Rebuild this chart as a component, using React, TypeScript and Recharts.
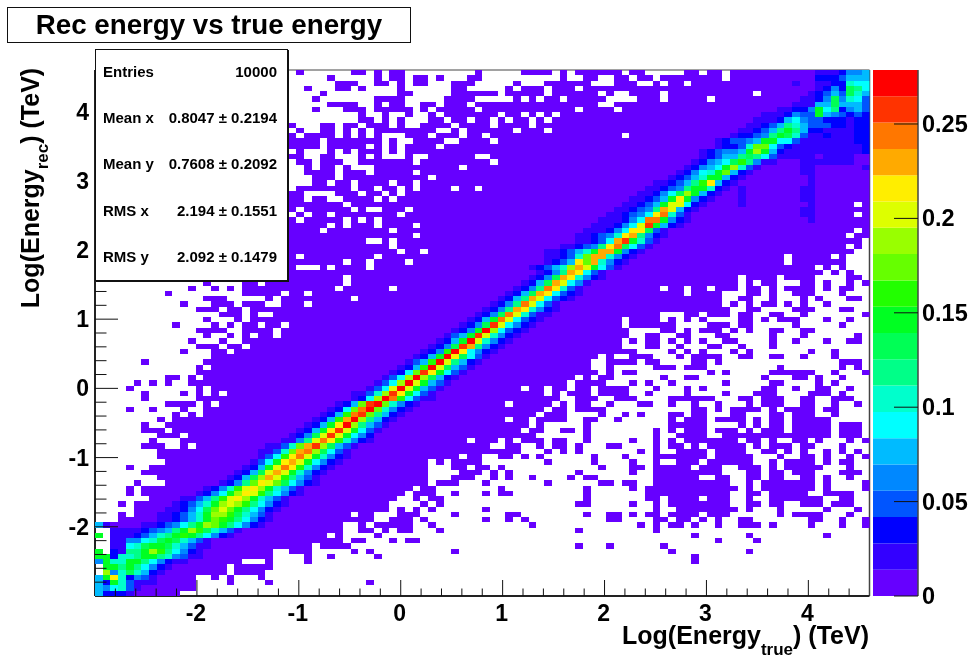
import { Bar, BarChart, ReferenceLine, Scatter, ScatterChart, XAxis, YAxis } from "recharts";

// colour levels of the z scale, bottom to top
const palette = [
  "#6600ff", "#3300ff", "#0000ff", "#0055ff", "#0088ff", "#00bbff", "#00ffff", "#00ffcc", "#00ff88", "#00ff55",
  "#00ff22", "#22ff00", "#66ff00", "#99ff00", "#ddff00", "#ffee00", "#ffaa00", "#ff7700", "#ff3300", "#ff0000",
];
const levelChars = "0123456789abcdefghij";
const zBandValue = 0.01393;
const zTicks = [0, 0.05, 0.1, 0.15, 0.2, 0.25];

const axisTicks = [
  -2.8, -2.6, -2.4, -2.2, -2, -1.8, -1.6, -1.4, -1.2, -1, -0.8, -0.6, -0.4, -0.2, 0, 0.2, 0.4, 0.6, 0.8, 1, 1.2, 1.4,
  1.6, 1.8, 2, 2.2, 2.4, 2.6, 2.8, 3, 3.2, 3.4, 3.6, 3.8, 4, 4.2, 4.4,
];

const binCount = 100;
const axisMin = -3;
const axisMax = 4.6;

// filled bins of each row, top row first: column ranges
const filledRows = [
  "26 33-34 36 38-39 49 55-58 60 62-67 69-70 76-77 79-80 82-99",
  "30 36 38-39 41-42 44 48-49 60 63-64 67-68 70-71 73-80 82-99",
  "31-33 36-37 39 41-42 46-48 54 58-63 67-69 72 74-75 77-99",
  "27 31-32 34 39 46-47 53 55-57 59-61 63-99",
  "29 39-40 46-51 53-57 59-64 66 69-72 74-84 86-99",
  "28 36-39 45-48 54 56 58-59 61-65 70-72 74-78 80-99",
  "30-33 36 38-39 42-43 45-47 49-64 67-99",
  "28 32-34 36-40 42 44-48 50-61 63-66 68-99",
  "34 37 40 43 45-51 53-54 56 58 60-99",
  "34-35 37 39 43-44 46-47 49-50 52 54-55 57 59-99",
  "25 29-30 32-33 35-37 39 42-45 47-50 52-55 57-99",
  "26 29-30 32 34 36-43 46 48-53 55-57 59-99",
  "25 27-30 32 34 36 40-42 44-46 48-49 51-67 69-99",
  "25-28 30-36 38 41-44 47-50 52-99",
  "25-28 30-34 36 38 40-43 45-99",
  "26 30 32 34-36 38 40-99",
  "25-26 29-30 34 36 40 43-48 51-99",
  "26-27 29-31 34-40 42-50 52-99",
  "27 29-30 32 36-46 48-99",
  "27-30 32-34 36-40 42-99",
  "28-30 32-42 44-99",
  "28-29 31-32 34-37 39-40 42-99",
  "26-32 34-35 37-38 40 42-45 47-48 50-99",
  "25-26 31-33 35-36 38 40-99",
  "25-26 28-29 32-35 37 39-99",
  "25-31 33-97 99",
  "25 27-32 34 37-39 41-99",
  "26 28-29 31-38 40-97 99",
  "25 27-31 33 35 37-99",
  "25-29 31 33-35 37-40 42-99",
  "25-28 30-37 39-97 99",
  "25-40 42-96 98-99",
  "25-34 37 39-98",
  "25-37 39-96 98",
  "25-38 40-41 43-97",
  "25 27-35 37-88 90-94 96",
  "25-31 33-34 36-39 41-88 90-96",
  "25 29 31-34 36-92 94 96",
  "25-93 95 97",
  "25-31 33-82 84-87 89-92 97-98",
  "14 19-20 22-31 33-82 84 86-87 91-92 94 97 99",
  "12 15 17 19-30 32-37 39-72 74-75 77-78 80-82 84-85 87 89-92 94 96-97",
  "9 19-23 25-26 28-75 77-80 84-85 87 90-92 96",
  "14-16 22 24-32 34-80 83-84 87 91 93 97-98",
  "11 15-17 19-21 24-26 28-80 82 84 86-87 89 91 94",
  "13-15 17-18 20-81 84-85 90-92 96-97",
  "16-18 20 23-72 76-77 79-81 83-84 87-88 91 99",
  "14 18 20-67 69-72 74 76 78 83-84 86 88-90 94 97",
  "10 15 17 19-20 22-23 25-67 69-74 79-81 83-84 90 96",
  "13-16 19-22 24-68 73-74 76 78-80 82 84 87-88 91-92",
  "14 17 19 21-22 24-68 71-72 75-76 80-81 87 91 98",
  "12 16 19-67 69 71-72 74 76 78 81-82 87 90 94 97-98",
  "13-15 17-18 20-67 71-72 75 79-80 83 87",
  "11 15-16 18-69 74 76 78 82 84 92 95",
  "15-64 66 69-71 75 77-80 83-84 87-88 91 95",
  "6 14-63 66-69 71-72 77-78 80 96-98",
  "13 15-63 66 72-74 76-78 88 96 98",
  "13-64 66 68-69 79 81 87-92 95 99",
  "9-10 12 14-61 63 65-66 73 76-77 86 90-91 93 96",
  "5 7 9 12-60 62-65 69 71 74 81 87-88 93 95",
  "4 13 15-54 56-57 59-60 62-63 65-68 72 76 78 86-87 90 93-94 97",
  "6 11 13 15 17-57 59 61-63 65-68 71 76 81 85-87 92-94 96",
  "6 13-59 62-64 67-69 74-79 83-84 86-88 91-92 95-97",
  "9-12 14 16-52 54-58 60 62-63 66 70-71 74 77 80 84 86-88 91-92 95 98",
  "4 7 11 14-57 59-60 62-65 77-78 80 82-85 87 89-92 94-95",
  "10 12 14-56 58-60 65 68 70 74-75 77-78 82-83 87-88 90-92 95",
  "8 10-52 54-55 57-60 63-64 67 74 76-78 80-83 85 87-88 90-94",
  "6 9-55 57 63 74-78 83 85 87-88 90-94 96-98",
  "6-8 10-54 56-57 60-61 63 72 74 76-78 80-82 84 86-88 90-94 96-98",
  "8-10 12-56 63 72 75-78 81-94 96-98",
  "7 11-47 49-51 53 55-57 59-60 63 69 72 74 76-82 84-85 87 90-91 93 97 99",
  "6-8 11 13-50 53-54 57 59-60 62 66-67 72 74-75 77 79-83 85 87-89 91-92 96",
  "8-54 58 60 62 70 72 75-78 80-83 86-87 89 91 94 96 98",
  "8-46 48-49 52-53 55 57 64 68 72-78 80-84 88 91-92 94 97 99",
  "9-42 44 46-49 58 64 69 72 75-77 79-84 87 89-92 94 96-97",
  "4 7-42 46-47 49-50 52 65 69-70 72-76 78-80 83-85 87 89-93 97",
  "6-42 47-49 51 53 62 69 72-80 84-85 87-88 90-92 96-98",
  "8-42 46-48 51 53 56 61 63-64 72-77 80-81 84-85 87-88 91-92 94 97",
  "5 9-42 44-46 50 58 65-66 68-69 72-81 84 86-92 94 99",
  "4 6-40 42-43 52 63 69 71-82 84 86-92 94 99",
  "4 6-39 41-43 46 50 52-53 63 71-81 84-85 87-91 94-97",
  "7-38 41 43-44 63 71-72 74-77 79-81 84 87-93 96-97",
  "3 5-37 42 44 62-63 69 72 74-81 84-85 87-88 91-93 95-97",
  "5-37 39 41 43 50 72 75-82 84 88 94 98",
  "3 5-32 34-35 39-41 46 53-54 63 66-67 69 71-72 74-77 79-81 88 90-93 97",
  "3-35 38-40 42 50 53 55 66-67 72-73 75-76 78 80 83-84 92-93 96 99",
  "0-31 34 36-40 43 56 70 72 74-75 77 80 83-85 87 92 96 99",
  "2-31 34-35 37 39-40 44 62 72",
  "0 2-29 31 36 77 84 94",
  "2-31 33-34 38 40-41 80 85",
  "2-27 29-32 62 66 73",
  "0 2-22 25-27 33 35 46 74 84",
  "0-22 27 30 36 77",
  "0-18 22 27 77",
  "1-16 18-22",
  "1-16 18-21",
  "0-12 15 17 21",
  "0-12 17 22 35",
  "0-12",
  "0-10",
];

// coloured bins along the ridge: [row from top, first column, level of each bin]
const ridgeRows: [number, number, string][] = [
  [0, 93, "1112445"], [1, 93, "2223555"], [2, 90, "1"], [2, 93, "1122766"], [3, 93, "1242986"], [4, 92, "12353975"],
  [5, 91, "112494763"], [6, 90, "1115595553"], [7, 88, "11224a682453"], [8, 86, "1112433a543232"],
  [9, 85, "111256433222122"], [10, 84, "1123587533322122"], [11, 83, "112358a8522111122"],
  [12, 82, "122348a97311"], [12, 94, "211122"], [13, 80, "123345aa66311"], [13, 93, "1111122"],
  [14, 80, "12237cc6321"], [14, 91, "111111112"], [15, 78, "123445ada521"], [15, 90, "1111111112"],
  [16, 78, "12355898631"], [16, 89, "11"], [16, 91, "11"], [16, 94, "1111"], [17, 77, "124569b8411"],
  [17, 91, "1111111"], [18, 76, "12456ad731"], [18, 91, "11"], [18, 99, "1"], [19, 75, "12467ac521"], [19, 91, "11"],
  [20, 74, "12357aa521"], [20, 92, "1"], [21, 72, "112358bf521"], [21, 92, "1"], [22, 71, "112348aa721"], [22, 83, "1"], [22, 91, "11"],
  [23, 70, "112469da521"], [23, 83, "1"], [23, 91, "11"], [24, 69, "11235afa421"], [24, 83, "1"], [24, 91, "11"],
  [25, 68, "11235aee621"], [25, 83, "1"], [25, 92, "1"], [26, 67, "112348ge521"], [26, 91, "11"],
  [27, 66, "112346fh731"], [27, 91, "11"], [28, 65, "111246hha421"], [28, 92, "1"], [29, 64, "111246eia521"],
  [30, 63, "111246ff931"], [31, 62, "112347fg8421"], [32, 62, "11236gia731"], [33, 60, "112348fh9631"],
  [34, 58, "112357agga421"], [35, 58, "11237cgg7421"], [36, 58, "1235fcg7421"], [37, 56, "12357dgea631"],
  [38, 57, "1248gf631"], [39, 56, "1249gf7421"], [40, 55, "1259ge641"], [41, 54, "1248hf731"], [42, 53, "1259gf6321"],
  [43, 52, "1258ge6321"], [44, 51, "1248he631"], [45, 50, "1248gf7421"], [46, 49, "1249he7311"], [47, 48, "125ahe6321"],
  [48, 47, "1249ie6421"], [49, 46, "124ajd6321"], [50, 45, "135aie7421"], [51, 44, "125aje7421"], [52, 43, "1249ig8421"],
  [53, 42, "124bjf6421"], [54, 41, "125ajf9631"], [55, 40, "135bje8521"], [56, 39, "125bje9531"], [57, 38, "126cifa631"],
  [58, 37, "136djd9521"], [59, 36, "136djea531"], [60, 35, "136ejea531"], [61, 33, "1137difa631"], [62, 33, "126djhb6311"],
  [63, 31, "125cijc7421"], [64, 30, "126chjc7421"], [65, 29, "125bhic8521"], [66, 28, "125bgjd8521"], [67, 27, "125afjd8531"],
  [68, 26, "125afiea631"], [69, 25, "1249eiea642"], [70, 24, "1148ehfb7421"], [71, 22, "1137cgid9531"], [72, 21, "1137cghd9631"],
  [73, 21, "136bfhea7421"], [74, 20, "136afgea6421"], [75, 19, "125aehfb7421"], [76, 18, "1259egea7421"], [77, 17, "1259dgeb8531"],
  [78, 16, "1248cfec96421"], [79, 14, "1247befda7531"], [80, 13, "1246adfeb86421"], [81, 11, "11358befda7531"],
  [82, 10, "12357adedb86421"], [83, 9, "112469ceca86421"], [84, 8, "112357addb97531"],
  [85, 8, "112357acba86421"], [86, 0, "51"], [86, 6, "1123468adca86421"], [87, 2, "111123458adb97531"], [88, 0, "a"],
  [88, 2, "11123578aba86421"], [89, 2, "1144679a97531"], [90, 2, "11679aa975311"], [91, 0, "a"], [91, 2, "2188adb86421"],
  [92, 0, "aa2778aa874311"], [93, 0, "4a77aa864211"], [94, 1, "aa8a86421"], [95, 1, "d4797521"], [96, 0, "5af72431"],
  [97, 0, "52a73111"], [98, 0, "546731"], [99, 0, "52221"],
];

const statLines = [
  ["Entries", "10000"],
  ["Mean x", "0.8047 ± 0.2194"],
  ["Mean y", "0.7608 ± 0.2092"],
  ["RMS x", "2.194 ± 0.1551"],
  ["RMS y", "2.092 ± 0.1479"],
];

const font = '"Liberation Sans", Arial, sans-serif';
const plot = { left: 95, top: 70, width: 774.5, height: 526 };

function buildCells() {
  const step = (axisMax - axisMin) / binCount;
  const grid = new Map<string, { col: number; row: number; level: number }>();
  filledRows.forEach((spec, row) => {
    spec.split(" ").forEach((part) => {
      const [from, to] = part.split("-").map(Number);
      for (let col = from; col <= (to ?? from); col++) grid.set(col + ":" + row, { col, row, level: 0 });
    });
  });
  ridgeRows.forEach(([row, first, levels]) => {
    [...levels].forEach((c, i) => {
      grid.set(first + i + ":" + row, { col: first + i, row, level: levelChars.indexOf(c) });
    });
  });
  const byLevel: { x: number; y: number }[][] = palette.map(() => []);
  grid.forEach(({ col, row, level }) => {
    byLevel[level].push({ x: axisMin + (col + 0.5) * step, y: axisMax - (row + 0.5) * step });
  });
  return byLevel;
}

const cellsByLevel = buildCells();
const bandRow = [Object.fromEntries(palette.map((_, i) => ["b" + i, zBandValue]))];

function Cell({ cx, cy, fill }: any) {
  const w = plot.width / binCount;
  const h = plot.height / binCount;
  return <rect x={cx - w / 2} y={cy - h / 2} width={w} height={h} fill={fill} shapeRendering="crispEdges" />;
}

function XTick({ x, y, payload }: any) {
  const major = Number.isInteger(payload.value);
  return (
    <g>
      <line x1={x} x2={x} y1={y} y2={y - (major ? 16 : 7.5)} stroke="#111" />
      {major && (
        <text x={x - 1} y={y + 17} textAnchor="middle" dominantBaseline="central" fontSize={23} fontWeight="bold" fontFamily={font} fill="#000">
          {payload.value}
        </text>
      )}
    </g>
  );
}

function YTick({ x, y, payload }: any) {
  const major = Number.isInteger(payload.value);
  return (
    <g>
      <line x1={x} x2={x + (major ? 23 : 11.5)} y1={y} y2={y} stroke="#111" />
      {major && (
        <text x={x - 6} y={y} textAnchor="end" dominantBaseline="central" fontSize={23} fontWeight="bold" fontFamily={font} fill="#000">
          {payload.value}
        </text>
      )}
    </g>
  );
}

function ZTick({ x, y, payload }: any) {
  return (
    <g>
      <line x1={x} x2={x - 24} y1={y} y2={y} stroke="#111" />
      <text x={x + 4} y={y} dominantBaseline="central" fontSize={23.5} fontWeight="bold" fontFamily={font} fill="#000">
        {payload.value}
      </text>
    </g>
  );
}

export default function App() {
  return (
    <div style={{ position: "absolute", left: 0, top: 0, width: 971, height: 657, overflow: "hidden", background: "#fff", fontFamily: font, color: "#000", filter: "blur(0.4px)" }}>
      <div style={{ position: "absolute", left: 0, top: 0 }}>
        <BarChart
          width={971}
          height={657}
          data={bandRow}
          margin={{ left: 873, top: plot.top, right: 52, bottom: 657 - plot.top - plot.height }}
          barCategoryGap={0}
        >
          <XAxis hide />
          <YAxis
            orientation="right"
            type="number"
            domain={[0, zBandValue * palette.length]}
            ticks={zTicks}
            interval={0}
            width={1}
            tickSize={0}
            tickMargin={0}
            tickLine={false}
            tick={<ZTick />}
            axisLine={{ stroke: "#444", strokeWidth: 1.5 }}
            allowDataOverflow
          />
          {palette.map((color, i) => (
            <Bar key={i} dataKey={"b" + i} stackId="z" fill={color} isAnimationActive={false} />
          ))}
        </BarChart>
      </div>

      <div style={{ position: "absolute", left: 0, top: 0 }}>
        <ScatterChart
          width={971 - 100}
          height={657}
          margin={{ left: plot.left - 1, top: plot.top, right: 971 - 100 - plot.left - plot.width, bottom: 657 - plot.top - plot.height - 1 }}
        >
          <XAxis
            type="number"
            dataKey="x"
            domain={[axisMin, axisMax]}
            ticks={axisTicks}
            interval={0}
            height={1}
            tickSize={0}
            tickMargin={0}
            tickLine={false}
            tick={<XTick />}
            axisLine={{ stroke: "#222", strokeWidth: 2 }}
            allowDataOverflow
          />
          <YAxis
            type="number"
            dataKey="y"
            domain={[axisMin, axisMax]}
            ticks={axisTicks}
            interval={0}
            width={1}
            tickSize={0}
            tickMargin={0}
            tickLine={false}
            tick={<YTick />}
            axisLine={{ stroke: "#222", strokeWidth: 2 }}
            allowDataOverflow
          />
          {cellsByLevel.map((cells, i) => (
            <Scatter key={i} data={cells} fill={palette[i]} shape={<Cell />} isAnimationActive={false} />
          ))}
          <ReferenceLine x={axisMax} stroke="#444" strokeWidth={1.5} />
          <ReferenceLine y={axisMax} stroke="#444" />
        </ScatterChart>
      </div>

      <div
        style={{
          position: "absolute", left: 7, top: 7, width: 402, height: 34, border: "1px solid #111", background: "#fff",
          textAlign: "center", fontWeight: "bold", fontSize: 27.7, lineHeight: "33px",
        }}
      >
        Rec energy vs true energy
      </div>

      <div
        style={{
          position: "absolute", left: 95, top: 49, width: 191, height: 230, border: "1px solid #111", boxShadow: "1px 1px 0 #111",
          background: "#fff", fontWeight: "bold", fontSize: 15,
        }}
      >
        {statLines.map(([name, value], i) => (
          <div key={name} style={{ position: "absolute", left: 7, right: 10, top: 13 + i * 46.2, display: "flex", justifyContent: "space-between", lineHeight: "18px" }}>
            <span>{name}</span>
            <span>{value}</span>
          </div>
        ))}
      </div>

      <div style={{ position: "absolute", right: 102, top: 621, fontWeight: "bold", fontSize: 25, lineHeight: "28px", whiteSpace: "nowrap" }}>
        Log(Energy<span style={{ fontSize: 17, position: "relative", top: 11 }}>true</span>) (TeV)
      </div>
      <div
        style={{
          position: "absolute", left: 30, top: 188, width: 0, height: 0, display: "flex", alignItems: "center", justifyContent: "center",
          transform: "rotate(-90deg)", fontWeight: "bold", fontSize: 25, whiteSpace: "nowrap",
        }}
      >
        <span style={{ flex: "none" }}>
          Log(Energy<span style={{ fontSize: 17, position: "relative", top: 9 }}>rec</span>) (TeV)
        </span>
      </div>
    </div>
  );
}
